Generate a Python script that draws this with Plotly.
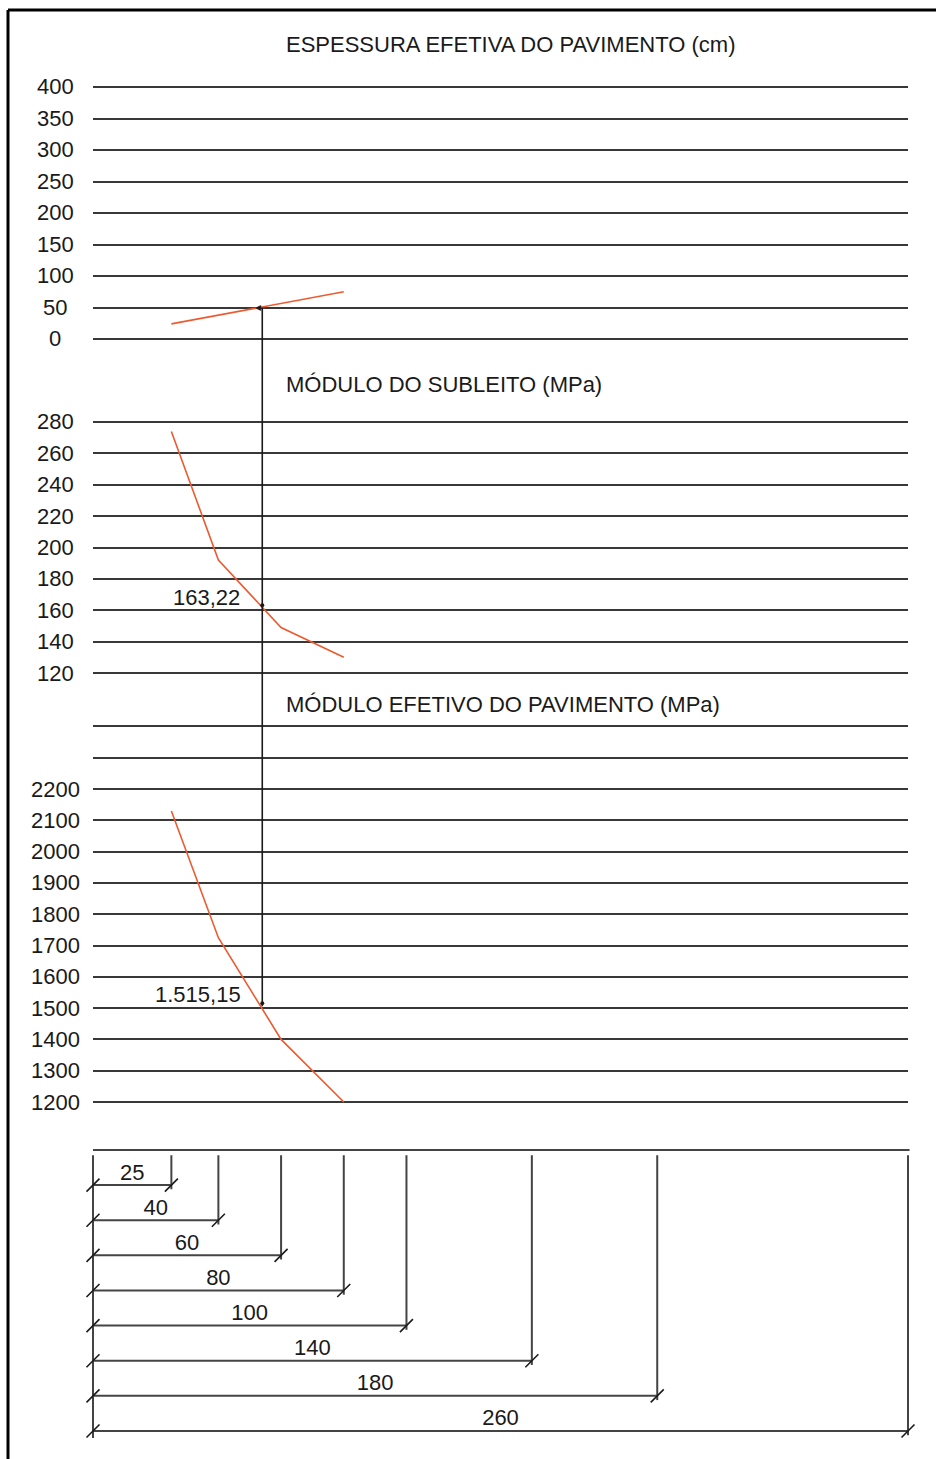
import plotly.graph_objects as go

W, H = 936, 1459

# common horizontal scale (cm)
DIST = [25, 40, 60, 80]
DIM_LENGTHS = [25, 40, 60, 80, 100, 140, 180, 260]

# espessura efetiva do pavimento (cm)
TOP_TICKS = [0, 50, 100, 150, 200, 250, 300, 350, 400]
TOP_LINE_X = [25, 80]
TOP_LINE_Y = [24, 75]

# modulo do subleito (MPa)
MID_TICKS = [120, 140, 160, 180, 200, 220, 240, 260, 280]
MID_VALUES = [274, 192, 149, 130]

# modulo efetivo do pavimento (MPa)
BOT_TICKS = [1200, 1300, 1400, 1500, 1600, 1700, 1800, 1900, 2000, 2100, 2200, 2300, 2400]
BOT_LABELS = ['1200', '1300', '1400', '1500', '1600', '1700', '1800', '1900', '2000',
              '2100', '2200', '', '']
BOT_VALUES = [2130, 1725, 1400, 1200]

# leitura
READ_X = 54
READ_TOP = 50
READ_MID = 163.22
READ_BOT = 1515.15
READ_MID_TXT = '163,22'
READ_BOT_TXT = '1.515,15'

TITLES = ['ESPESSURA EFETIVA DO PAVIMENTO (cm)', 'MÓDULO DO SUBLEITO (MPa)',
          'MÓDULO EFETIVO DO PAVIMENTO (MPa)']

FONT = 'Liberation Sans, Arial, Helvetica, sans-serif'
RED = '#ee5a2f'
GRID = '#383838'
INK = '#1a1a1a'
FS = 22


def axis_from_px(v_a, px_a, v_b, px_b, r0, r1, size=H):
    k = (px_b - px_a) / (v_b - v_a)
    p0 = px_a + (r0 - v_a) * k
    p1 = px_a + (r1 - v_a) * k
    return dict(range=[r0, r1], domain=[1 - p0 / size, 1 - p1 / size])


ax_top = axis_from_px(0, 339, 400, 87, -8, 408)
ax_mid = axis_from_px(120, 673, 280, 422, 116, 284)
ax_bot = axis_from_px(1200, 1102, 2200, 789, 1180, 2420)
ax_dim = axis_from_px(0, 1150, -8, 1431, -8.4, 0.3)
# x for dimension diagram: full width, same scale as the panels
k = (908 - 93) / 260
ax_x2 = dict(range=[-93 / k, (W - 93) / k], domain=[0, 1])


def to_paper(ax, v):
    r0, r1 = ax['range']
    d0, d1 = ax['domain']
    return d0 + (v - r0) / (r1 - r0) * (d1 - d0)


fig = go.Figure()

fig.add_trace(go.Scatter(x=TOP_LINE_X, y=TOP_LINE_Y, mode='lines', line=dict(color=RED, width=1.6),
                         xaxis='x', yaxis='y'))
fig.add_trace(go.Scatter(x=DIST, y=MID_VALUES, mode='lines', line=dict(color=RED, width=1.6),
                         xaxis='x', yaxis='y2'))
fig.add_trace(go.Scatter(x=DIST, y=BOT_VALUES, mode='lines', line=dict(color=RED, width=1.6),
                         xaxis='x', yaxis='y3'))
fig.add_trace(go.Scatter(x=[READ_X], y=[READ_MID], mode='markers',
                         marker=dict(color=INK, size=4), xaxis='x', yaxis='y2'))
fig.add_trace(go.Scatter(x=[READ_X], y=[READ_BOT], mode='markers',
                         marker=dict(color=INK, size=4), xaxis='x', yaxis='y3'))

# dimension diagram
DIM_C = '#444444'
vx, vy, hx, hy, tx, ty = [], [], [], [], [], []
for i, L in enumerate(DIM_LENGTHS):
    lvl = -(i + 1)
    vx += [L, L, None]
    vy += [-0.15, lvl - 0.12, None]
    hx += [0, L, None]
    hy += [lvl, lvl, None]
    tx += [0, L]
    ty += [lvl, lvl]
fig.add_trace(go.Scatter(x=[0, DIM_LENGTHS[-1] + 0.5], y=[0, 0], mode='lines',
                         line=dict(color=DIM_C, width=2), xaxis='x2', yaxis='y4'))
fig.add_trace(go.Scatter(x=[0, 0], y=[-0.15, -len(DIM_LENGTHS) - 0.2], mode='lines',
                         line=dict(color=DIM_C, width=2), xaxis='x2', yaxis='y4'))
fig.add_trace(go.Scatter(x=vx, y=vy, mode='lines', line=dict(color=DIM_C, width=2),
                         xaxis='x2', yaxis='y4'))
fig.add_trace(go.Scatter(x=hx, y=hy, mode='lines', line=dict(color=DIM_C, width=2),
                         xaxis='x2', yaxis='y4'))
fig.add_trace(go.Scatter(x=tx, y=ty, mode='markers',
                         marker=dict(symbol='line-ne', size=13, line=dict(color=INK, width=1.6)),
                         xaxis='x2', yaxis='y4'))
fig.add_trace(go.Scatter(x=[L / 2 for L in DIM_LENGTHS], y=[-(i + 1) for i in range(len(DIM_LENGTHS))],
                         mode='text', text=[str(L) for L in DIM_LENGTHS], textposition='top center',
                         textfont=dict(family=FONT, size=FS, color=INK),
                         xaxis='x2', yaxis='y4'))

ann = []
for ref, ticks, labels in [('y', TOP_TICKS, [str(t) for t in TOP_TICKS]),
                           ('y2', MID_TICKS, [str(t) for t in MID_TICKS]),
                           ('y3', BOT_TICKS, BOT_LABELS)]:
    for t, lab in zip(ticks, labels):
        if lab:
            ann.append(dict(x=55 / W, xref='paper', y=t, yref=ref, text=lab, showarrow=False,
                            xanchor='center', yanchor='middle',
                            font=dict(family=FONT, size=FS, color=INK)))
for title, ypx in zip(TITLES, [45, 384, 704]):
    ann.append(dict(x=284 / W, xref='paper', y=1 - ypx / H, yref='paper', text=title, showarrow=False,
                    xanchor='left', yanchor='middle', font=dict(family=FONT, size=FS, color=INK)))
ann.append(dict(x=READ_X, xref='x', y=READ_MID, yref='y2', text=READ_MID_TXT, showarrow=False,
                xanchor='right', yanchor='middle', xshift=-20, yshift=8,
                font=dict(family=FONT, size=FS, color=INK)))
ann.append(dict(x=READ_X, xref='x', y=READ_BOT, yref='y3', text=READ_BOT_TXT, showarrow=False,
                xanchor='right', yanchor='middle', xshift=-19, yshift=9,
                font=dict(family=FONT, size=FS, color=INK)))
ann.append(dict(x=READ_X, xref='x', y=READ_TOP, yref='y', text='◂', showarrow=False,
                xanchor='right', yanchor='middle', xshift=1,
                font=dict(family='DejaVu Sans', size=12, color=INK)))

shapes = [
    # reading line through the three panels
    dict(type='line', xref='x', yref='paper', x0=READ_X, x1=READ_X,
         y0=to_paper(ax_top, READ_TOP), y1=to_paper(ax_bot, READ_BOT) - 0.002,
         line=dict(color=INK, width=1.6)),
    # frame
    dict(type='line', xref='paper', yref='paper', x0=8 / W, x1=1, y0=1 - 10 / H, y1=1 - 10 / H,
         line=dict(color='black', width=3)),
    dict(type='line', xref='paper', yref='paper', x0=8 / W, x1=8 / W, y0=1 - 10 / H, y1=0,
         line=dict(color='black', width=3)),
]


def yaxis(ax, ticks):
    return dict(ax, tickvals=ticks, showticklabels=False, showgrid=True, gridcolor=GRID, gridwidth=2,
                zeroline=False, showline=False, ticks='', anchor='x', fixedrange=True)


fig.update_layout(
    width=W, height=H,
    margin=dict(l=0, r=0, t=0, b=0),
    paper_bgcolor='white', plot_bgcolor='white',
    showlegend=False,
    xaxis=dict(range=[0, 260], domain=[93 / W, 908 / W], showgrid=False, zeroline=False,
               showticklabels=False, ticks='', anchor='y3', fixedrange=True),
    xaxis2=dict(ax_x2, showgrid=False, zeroline=False, showticklabels=False, ticks='',
                anchor='y4', fixedrange=True),
    yaxis=yaxis(ax_top, TOP_TICKS),
    yaxis2=yaxis(ax_mid, MID_TICKS),
    yaxis3=yaxis(ax_bot, BOT_TICKS),
    yaxis4=dict(ax_dim, visible=False, anchor='x2', fixedrange=True),
    annotations=ann,
    shapes=shapes,
)

fig.write_html('out.html', config={'displayModeBar': False},
               post_script="document.body.style.margin='0';document.body.style.overflow='hidden';")
